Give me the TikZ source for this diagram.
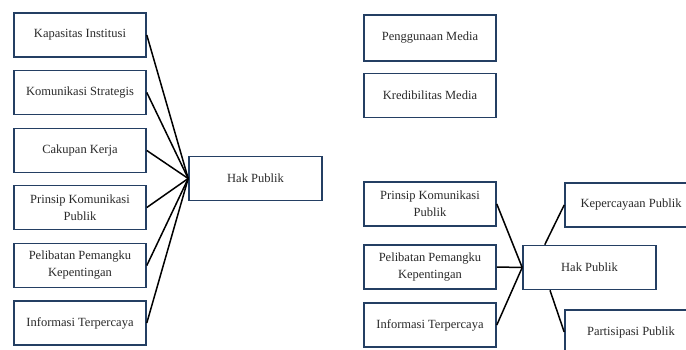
\documentclass[tikz,border=0pt]{standalone}
\usepackage{fontspec}
\setmainfont{Liberation Serif}
\usetikzlibrary{calc, positioning}
\definecolor{boxline}{HTML}{243F63}
\definecolor{boxtext}{HTML}{2A2A2A}

\begin{document}
\begin{tikzpicture}[x=1pt,y=-1pt,
    factor/.style={draw=boxline, line width=1.6pt, fill=white, text=boxtext,
        minimum width=132pt, minimum height=44pt, inner sep=2pt,
        align=center, font=\fontsize{12.5}{17}\selectfont},
    link/.style={black, line width=1.5pt}]
\useasboundingbox (0,0) rectangle (686,349);
\def\leftcol{80}
\def\midcol{430}

\node[factor] (kapasitas) at (\leftcol,35) {Kapasitas Institusi};
\node[factor] (komunikasi) at (\leftcol,92.5) {Komunikasi Strategis};
\node[factor] (cakupan) at (\leftcol,150.5) {Cakupan Kerja};
\node[factor] (prinsip) at (\leftcol,207.5) {Prinsip Komunikasi\\Publik};
\node[factor] (pelibatan) at (\leftcol,265.5) {Pelibatan Pemangku\\Kepentingan};
\node[factor] (informasi) at (\leftcol,323) {Informasi Terpercaya};
\node[factor, minimum width=133pt] (hak) at (255.5,178.5) {Hak Publik};

\foreach \src in {kapasitas, komunikasi, cakupan, prinsip, pelibatan, informasi}
    \draw[link] (\src.east) -- (hak.west);

\node[factor, minimum height=46pt] (penggunaan) at (\midcol,38) {Penggunaan Media};
\node[factor] (kredibilitas) at (\midcol,95.5) {Kredibilitas Media};

\node[factor] (prinsipb) at (\midcol,204) {Prinsip Komunikasi\\Publik};
\node[factor] (pelibatanb) at (\midcol,267) {Pelibatan Pemangku\\Kepentingan};
\node[factor] (informasib) at (\midcol,325) {Informasi Terpercaya};
\node[factor, minimum width=133pt] (hakb) at (589.5,267.5) {Hak Publik};
\node[factor] (kepercayaan) at (631,205) {Kepercayaan Publik};
\node[factor] (partisipasi) at (631,332) {Partisipasi Publik};

\foreach \src in {prinsipb, pelibatanb, informasib}
    \draw[link] (\src.east) -- (hakb.west);
\draw[link] (hakb.153) -- (kepercayaan.west);
\draw[link] (hakb.210) -- (partisipasi.west);
\end{tikzpicture}
\end{document}
